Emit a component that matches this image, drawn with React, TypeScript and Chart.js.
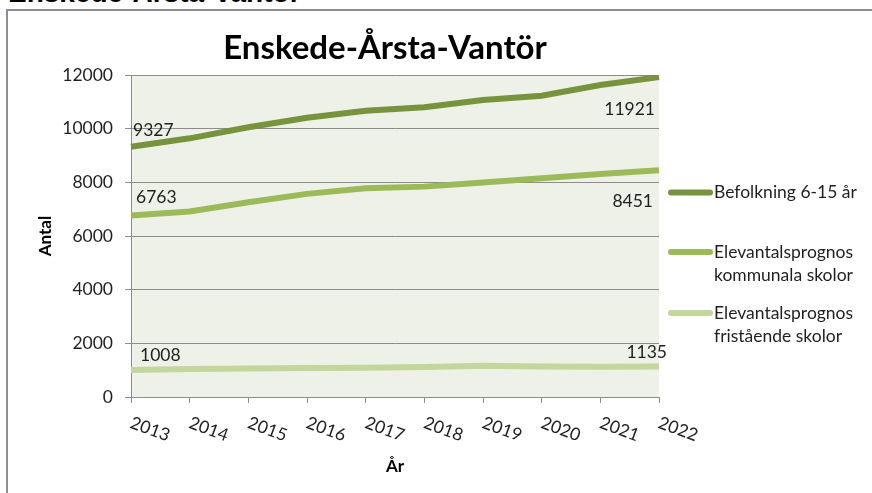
import React, { useEffect, useRef } from "react";
import { Chart, registerables } from "chart.js";

Chart.register(...registerables);

const years = ["2013", "2014", "2015", "2016", "2017", "2018", "2019", "2020", "2021", "2022"];
const befolkning = [9327, 9640, 10050, 10410, 10670, 10800, 11070, 11230, 11630, 11921];
const kommunala = [6763, 6910, 7260, 7570, 7780, 7840, 7990, 8150, 8310, 8451];
const fristaende = [1008, 1040, 1060, 1080, 1090, 1120, 1160, 1140, 1130, 1135];
const seriesNames = [
  "Befolkning 6-15 år",
  "Elevantalsprognos kommunala skolor",
  "Elevantalsprognos fristående skolor",
];
const legendLines = [
  ["Befolkning 6-15 år"],
  ["Elevantalsprognos", "kommunala skolor"],
  ["Elevantalsprognos", "fristående skolor"],
];
const seriesColors = ["#77933C", "#9BBB59", "#C3D69B"];
const chartTitle = "Enskede-Årsta-Vantör";
const yTitle = "Antal";
const xTitle = "År";
const yMin = 0;
const yMax = 12000;
const yStep = 2000;

const FONT = "Lato, 'Open Sans', sans-serif";
const TEXT = "#1f1f1f";
const FS = 17.5;

const customPlugin = {
  id: "custom",
  beforeDraw(chart: any) {
    const { ctx, chartArea: a } = chart;
    ctx.save();
    ctx.fillStyle = "#EEF1E8";
    ctx.fillRect(a.left, a.top, a.right - a.left, a.bottom - a.top);
    ctx.restore();
  },
  afterDraw(chart: any) {
    const { ctx, chartArea: a } = chart;
    const xs = chart.scales.x;
    const ys = chart.scales.y;
    ctx.save();
    // title
    ctx.fillStyle = "#000";
    ctx.font = `bold 33px ${FONT}`;
    ctx.textAlign = "center";
    ctx.textBaseline = "middle";
    ctx.fillText(chartTitle, 385, 48);

    // rotated x tick labels
    ctx.font = `${FS}px ${FONT}`;
    ctx.fillStyle = TEXT;
    ctx.textAlign = "left";
    ctx.textBaseline = "top";
    years.forEach((yr, i) => {
      const x = xs.getPixelForValue(i);
      ctx.save();
      ctx.translate(x + 3, a.bottom + 17);
      ctx.rotate((20 * Math.PI) / 180);
      ctx.fillText(yr, 0, 0);
      ctx.restore();
    });

    // data labels (first and last points)
    const all = [befolkning, kommunala, fristaende];
    const firstOff = [
      [2, -16],
      [5, -18],
      [9, -15],
    ];
    const lastOff = [
      [-4, 32],
      [-6, 31],
      [8, -14],
    ];
    ctx.textBaseline = "middle";
    all.forEach((arr, s) => {
      const x0 = xs.getPixelForValue(0);
      const y0 = ys.getPixelForValue(arr[0]);
      ctx.textAlign = "left";
      ctx.fillText(String(arr[0]), x0 + firstOff[s][0], y0 + firstOff[s][1]);
      const n = arr.length - 1;
      const x1 = xs.getPixelForValue(n);
      const y1 = ys.getPixelForValue(arr[n]);
      ctx.textAlign = "right";
      ctx.fillText(String(arr[n]), x1 + lastOff[s][0], y1 + lastOff[s][1]);
    });

    // legend
    const legendY = [192.5, 252, 313];
    ctx.textAlign = "left";
    ctx.textBaseline = "middle";
    ctx.lineCap = "round";
    legendLines.forEach((lines, i) => {
      ctx.strokeStyle = seriesColors[i];
      ctx.lineWidth = 6;
      ctx.beginPath();
      ctx.moveTo(671, legendY[i]);
      ctx.lineTo(710, legendY[i]);
      ctx.stroke();
      ctx.fillStyle = TEXT;
      lines.forEach((t, j) => {
        ctx.fillText(t, 714, legendY[i] + j * 23);
      });
    });
    ctx.restore();
  },
};

export default function App() {
  const ref = useRef<HTMLCanvasElement | null>(null);

  useEffect(() => {
    if (!ref.current) return;
    const data = [befolkning, kommunala, fristaende];
    const chart = new Chart(ref.current, {
      type: "line",
      data: {
        labels: years,
        datasets: data.map((d, i) => ({
          label: seriesNames[i],
          data: d,
          borderColor: seriesColors[i],
          backgroundColor: seriesColors[i],
          borderWidth: 6,
          pointRadius: 0,
          tension: 0,
          fill: false,
        })),
      },
      options: {
        animation: false,
        responsive: false,
        devicePixelRatio: 1,
        layout: { padding: { left: 0, top: 75, right: 213, bottom: 0 } },
        plugins: {
          legend: { display: false },
          title: { display: false },
          tooltip: { enabled: false },
        },
        scales: {
          x: {
            type: "category",
            offset: false,
            afterFit: (s: any) => {
              s.height = 96;
            },
            grid: {
              drawOnChartArea: false,
              drawTicks: true,
              tickLength: 6,
              color: "#8c8c8c",
            },
            border: { color: "#8c8c8c", width: 1 },
            ticks: {
              color: "rgba(0,0,0,0)",
              autoSkip: false,
              maxRotation: 0,
              minRotation: 0,
              font: { family: FONT, size: FS },
            },
            title: {
              display: true,
              text: xTitle,
              color: "#000",
              font: { family: FONT, size: 17, weight: "bold" },
              padding: { top: 4, bottom: 16 },
            },
          },
          y: {
            min: yMin,
            max: yMax,
            afterFit: (s: any) => {
              s.width = 131;
            },
            ticks: {
              stepSize: yStep,
              color: TEXT,
              padding: 12,
              font: { family: FONT, size: FS },
              callback: (v: any) => String(v),
            },
            grid: {
              color: "#8c8c8c",
              tickLength: 6,
              drawTicks: true,
            },
            border: { color: "#8c8c8c", width: 1 },
            title: {
              display: true,
              text: yTitle,
              color: "#000",
              font: { family: FONT, size: 17, weight: "bold" },
              padding: { top: 35, bottom: 0 },
            },
          },
        },
      },
      plugins: [customPlugin],
    } as any);
    return () => chart.destroy();
  }, []);

  return (
    <div
      style={{
        position: "fixed",
        left: 0,
        top: 0,
        width: 872,
        height: 493,
        overflow: "hidden",
        background: "#fff",
      }}
    >
      <div
        style={{
          position: "absolute",
          left: 8,
          top: -21,
          fontFamily: "'Liberation Sans', Arial, sans-serif",
          fontWeight: "bold",
          fontSize: 28,
          lineHeight: "28px",
          whiteSpace: "nowrap",
          color: "#000",
        }}
      >
        {chartTitle}
      </div>
      <div
        style={{
          position: "absolute",
          left: 6,
          top: 9,
          width: 1000,
          height: 1000,
          border: "2px solid #8e8e8e",
          boxSizing: "border-box",
        }}
      />
      <canvas
        ref={ref}
        width={872}
        height={493}
        style={{ position: "absolute", left: 0, top: 0, width: 872, height: 493 }}
      />
    </div>
  );
}
